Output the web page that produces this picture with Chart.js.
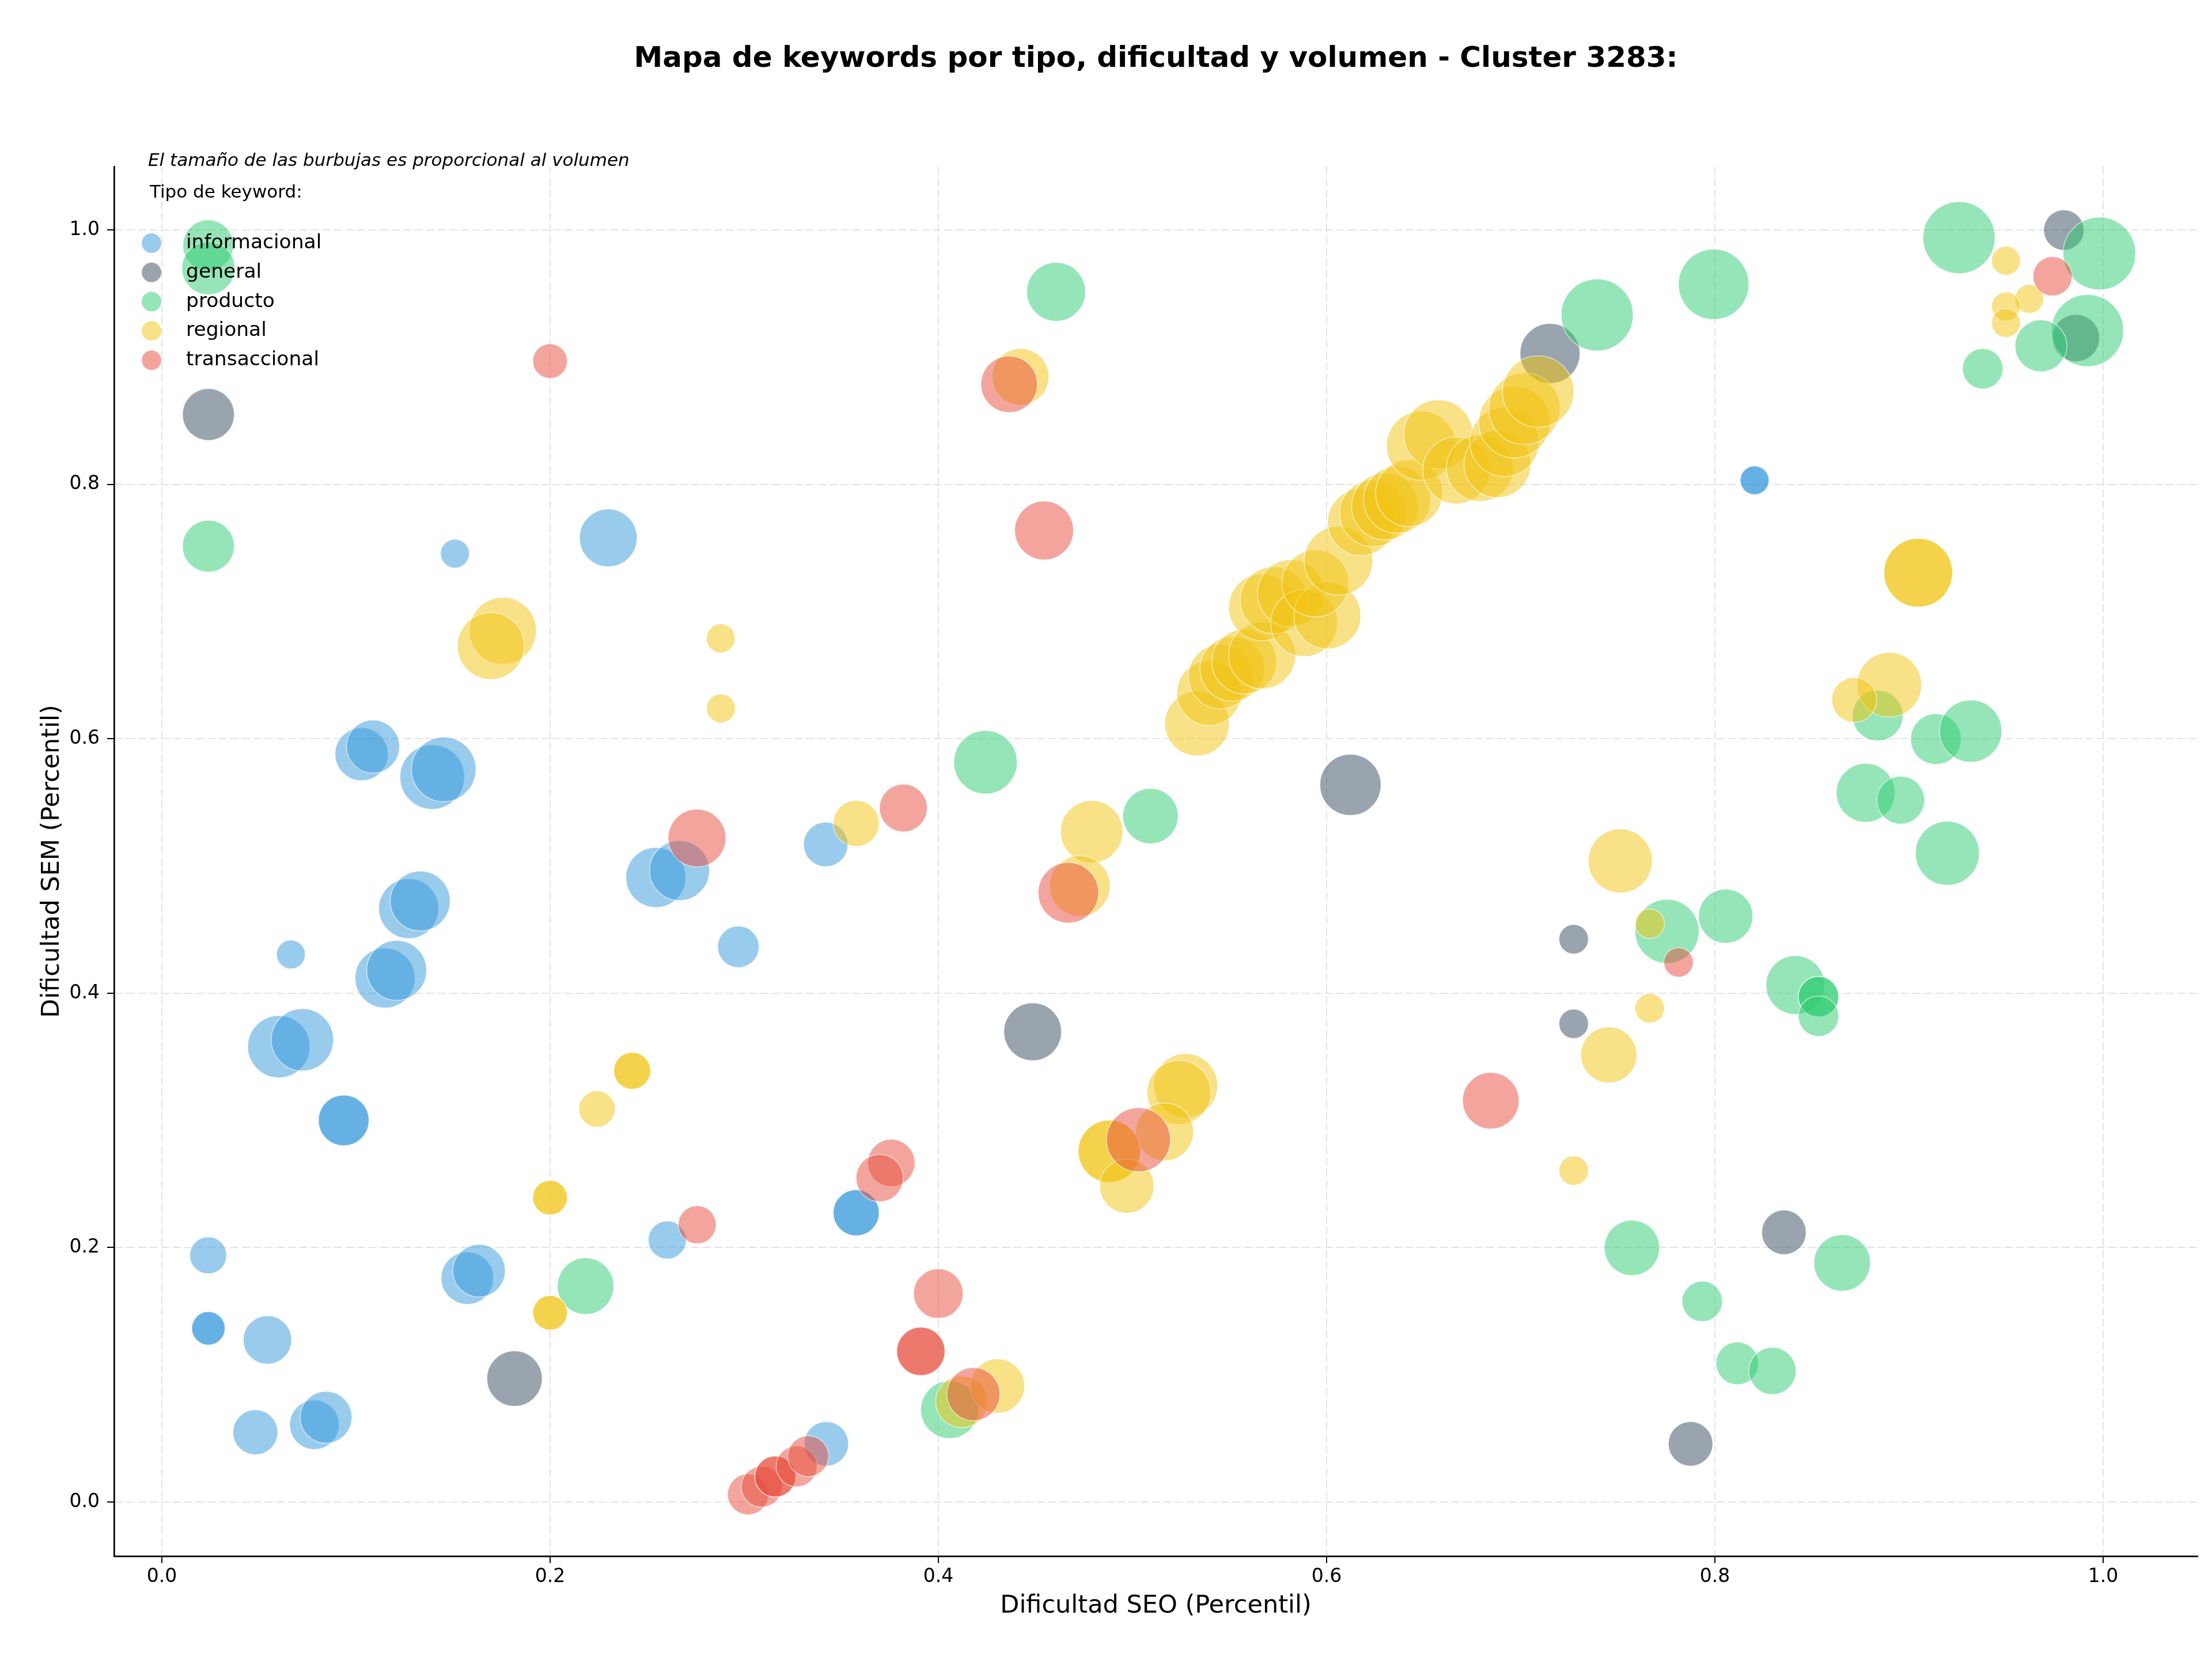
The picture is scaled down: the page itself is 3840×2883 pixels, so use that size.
<!DOCTYPE html>
<html>
<head>
<meta charset="utf-8">
<script src="https://cdn.jsdelivr.net/npm/chart.js@4/dist/chart.umd.min.js"></script>
<style>
  html, body { margin: 0; padding: 0; background: #fff; }
  canvas { display: block; }
</style>
</head>
<body>
<canvas id="keywords-bubble-chart" width="3840" height="2883"></canvas>
<script>
/* Datos: dificultad SEO (x), dificultad SEM (y) y volumen por tipo de keyword */
let tipos = ['informacional', 'general', 'producto', 'regional', 'transaccional']

let seoInformacional = [0.151, 0.230, 0.1029, 0.1088, 0.1393, 0.1452, 0.342, 0.2545, 0.2667, 0.297, 0.1272, 0.1331, 0.0665, 0.115, 0.121, 0.0603, 0.0724, 0.0937, 0.0937, 0.2604, 0.0239, 0.024, 0.024, 0.0544, 0.1574, 0.1634, 0.0482, 0.0786, 0.0846, 0.3577, 0.3577, 0.3423, 0.8205, 0.8205]
let semInformacional = [0.7456, 0.758, 0.588, 0.594, 0.570, 0.576, 0.517, 0.491, 0.4965, 0.4365, 0.4666, 0.4725, 0.4305, 0.412, 0.418, 0.358, 0.3634, 0.300, 0.300, 0.206, 0.1939, 0.1365, 0.1365, 0.1274, 0.176, 0.1818, 0.0548, 0.0607, 0.0666, 0.2274, 0.2274, 0.0457, 0.8033, 0.8033]
let volInformacional = [1570, 6300, 5330, 5330, 7900, 7900, 3750, 6810, 6810, 3270, 6810, 6810, 1570, 6810, 6810, 7350, 7350, 4880, 4880, 2740, 2580, 2120, 2120, 4440, 5220, 5220, 3830, 4660, 5100, 4030, 4030, 3750, 1570, 1570]

let seoGeneral = [0.024, 0.1817, 0.4486, 0.6123, 0.7151, 0.9798, 0.986, 0.7273, 0.7273, 0.8356, 0.7875]
let semGeneral = [0.855, 0.097, 0.3697, 0.5638, 0.903, 1.0, 0.9151, 0.4424, 0.376, 0.212, 0.0457]
let volGeneral = [5100, 5800, 6300, 7080, 6810, 3090, 4240, 1640, 1640, 3750, 3750]

let seoProducto = [0.0239, 0.024, 0.024, 0.2183, 0.4058, 0.4607, 0.4243, 0.5093, 0.7394, 0.7994, 0.9258, 0.9981, 0.992, 0.968, 0.938, 0.8839, 0.9139, 0.9318, 0.8777, 0.8958, 0.9198, 0.7754, 0.8056, 0.8415, 0.8534, 0.8534, 0.8534, 0.7573, 0.8656, 0.7935, 0.8116, 0.8297]
let semProducto = [0.988, 0.970, 0.7515, 0.1697, 0.0726, 0.9515, 0.5816, 0.5393, 0.9333, 0.9574, 0.9941, 0.9816, 0.921, 0.909, 0.891, 0.6183, 0.5998, 0.6061, 0.5576, 0.5518, 0.510, 0.4487, 0.4606, 0.4064, 0.3973, 0.3973, 0.3819, 0.1998, 0.188, 0.1577, 0.109, 0.103]
let volProducto = [4880, 5330, 5100, 6050, 6300, 6550, 7620, 5800, 9840, 9380, 9840, 10000, 9840, 5100, 3090, 4880, 4880, 7350, 6550, 4340, 7760, 7760, 5570, 6550, 3090, 3090, 3090, 5800, 6050, 3090, 3450, 4240]

let seoRegional = [0.1757, 0.1695, 0.2879, 0.288, 0.2423, 0.2423, 0.2242, 0.2, 0.2, 0.2, 0.2, 0.3577, 0.4424, 0.479, 0.4729, 0.5274, 0.524, 0.5166, 0.4881, 0.4881, 0.4971, 0.412, 0.4305,
  0.5333, 0.5395, 0.5454, 0.5514, 0.5576, 0.5668, 0.5668, 0.5727, 0.5816, 0.5884, 0.6004, 0.5942, 0.6061, 0.6178, 0.624, 0.6301, 0.6363, 0.6425, 0.6487, 0.6576, 0.6668, 0.679, 0.688, 0.6916, 0.6968, 0.7019, 0.709,
  0.950, 0.962, 0.950, 0.950, 0.9048, 0.9048, 0.8899, 0.8718, 0.7513, 0.7665, 0.7665, 0.7454, 0.7273]
let semRegional = [0.685, 0.673, 0.679, 0.624, 0.339, 0.339, 0.309, 0.2393, 0.2393, 0.1488, 0.1488, 0.5335, 0.8847, 0.527, 0.4843, 0.3274, 0.322, 0.291, 0.2757, 0.2757, 0.2484, 0.0788, 0.0911,
  0.612, 0.636, 0.649, 0.655, 0.6607, 0.6656, 0.7034, 0.709, 0.7146, 0.691, 0.697, 0.7222, 0.74, 0.7704, 0.7774, 0.7827, 0.788, 0.7932, 0.8305, 0.8394, 0.811, 0.813, 0.816, 0.8334, 0.849, 0.8596, 0.873,
  0.976, 0.946, 0.940, 0.927, 0.7306, 0.7306, 0.6425, 0.6306, 0.504, 0.4547, 0.3882, 0.3515, 0.2606]
let volRegional = [8480, 8480, 1570, 1570, 2580, 2580, 2500, 2270, 2270, 2270, 2270, 4030, 6050, 7350, 6940, 7760, 7760, 6300, 7350, 7350, 5570, 5100, 5570,
  7900, 7900, 7900, 7900, 7900, 8480, 8480, 8480, 8480, 8480, 8480, 8480, 8920, 8480, 8480, 8480, 8480, 8480, 9070, 9070, 8480, 8480, 8480, 9070, 9690, 9690, 9690,
  1570, 1570, 1570, 1570, 8920, 8920, 7900, 3830, 7760, 1640, 1640, 5950, 1640]

let seoTransaccional = [0.2, 0.2757, 0.2758, 0.4365, 0.4545, 0.382, 0.467, 0.5031, 0.3758, 0.3698, 0.400, 0.391, 0.391, 0.4181, 0.6846, 0.974, 0.7813, 0.302, 0.309, 0.316, 0.316, 0.327, 0.333]
let semTransaccional = [0.897, 0.522, 0.218, 0.8788, 0.7638, 0.5456, 0.479, 0.2848, 0.2666, 0.2547, 0.1638, 0.1184, 0.1184, 0.0848, 0.3155, 0.9637, 0.4242, 0.006, 0.012, 0.020, 0.020, 0.028, 0.036]
let volTransaccional = [2270, 6300, 2740, 6050, 6550, 4340, 6940, 7760, 4240, 4240, 4660, 4440, 4440, 5330, 6050, 2910, 1640, 3180, 3180, 3180, 3180, 3180, 3180]

// colores de cada tipo, se pintan con transparencia
let chartColors = ['#3498db', '#34495e', '#2ecc71', '#f1c40f', '#e74c3c']
let fontFamily = "'DejaVu Sans', 'Liberation Sans', sans-serif"

function withAlpha(hex, alpha) {
    let r = parseInt(hex.slice(1, 3), 16)
    let g = parseInt(hex.slice(3, 5), 16)
    let b = parseInt(hex.slice(5, 7), 16)
    return 'rgba(' + r + ',' + g + ',' + b + ',' + alpha + ')'
}

// el area de la burbuja es proporcional al volumen
function bubbleRadius(volumen) {
    return 0.63 * Math.sqrt(volumen)
}

function buildPoints(seo, sem, vol) {
    return seo.map(function (x, i) {
        return { x: x, y: sem[i], r: bubbleRadius(vol[i]) }
    })
}

let series = [
    buildPoints(seoInformacional, semInformacional, volInformacional),
    buildPoints(seoGeneral, semGeneral, volGeneral),
    buildPoints(seoProducto, semProducto, volProducto),
    buildPoints(seoRegional, semRegional, volRegional),
    buildPoints(seoTransaccional, semTransaccional, volTransaccional)
]

let datasets = tipos.map(function (tipo, i) {
    return {
        label: tipo,
        data: series[i],
        backgroundColor: withAlpha(chartColors[i], 0.5),
        borderColor: 'rgba(255,255,255,0.6)',
        borderWidth: 1.5,
        order: tipos.length - i   // el primer tipo queda debajo, como en el original
    }
})

/* Leyenda y nota dibujadas dentro del area del grafico */
let keywordLegend = {
    id: 'keywordLegend',
    afterDraw: function (chart) {
        let ctx = chart.ctx
        ctx.save()
        ctx.fillStyle = '#000'
        ctx.textBaseline = 'middle'
        ctx.textAlign = 'left'
        ctx.font = 'italic 31px ' + fontFamily
        ctx.fillText('El tamaño de las burbujas es proporcional al volumen', 257, 280)
        ctx.font = '31px ' + fontFamily
        ctx.fillText('Tipo de keyword:', 260, 335)

        ctx.font = '34.5px ' + fontFamily
        tipos.forEach(function (tipo, i) {
            let y = 422 + i * 50.8
            ctx.beginPath()
            ctx.arc(263, y, 17, 0, Math.PI * 2)
            ctx.fillStyle = withAlpha(chartColors[i], 0.5)
            ctx.fill()
            ctx.fillStyle = '#000'
            ctx.fillText(tipo, 323, y)
        })
        ctx.restore()
    }
}

let gridOptions = {
    color: '#e3e3e3',
    lineWidth: 2,
    tickColor: '#000',
    tickWidth: 2,
    tickLength: 12,
    tickBorderDash: []
}

let chartCanvas = document.querySelector('#keywords-bubble-chart')
let ctx = chartCanvas.getContext('2d')

let keywordsChart = new Chart(ctx, {
    type: 'bubble',
    data: { datasets: datasets },
    options: {
        responsive: false,
        animation: false,
        devicePixelRatio: 1,
        layout: { autoPadding: false, padding: { left: 0, right: 25, top: 0, bottom: 0 } },
        plugins: {
            legend: { display: false },
            tooltip: { enabled: false },
            title: {
                display: true,
                text: 'Mapa de keywords por tipo, dificultad y volumen - Cluster 3283:',
                color: '#000',
                font: { family: fontFamily, size: 50, weight: 'bold' },
                padding: { top: 73, bottom: 156 },
                fullSize: false
            }
        },
        scales: {
            x: {
                type: 'linear',
                min: -0.0246,
                max: 1.0487,
                ticks: {
                    stepSize: 0.2,
                    includeBounds: false,
                    color: '#000',
                    padding: 5,
                    font: { family: fontFamily, size: 33 },
                    callback: function (value) { return value.toFixed(1) }
                },
                grid: gridOptions,
                border: { display: true, color: '#000', width: 2.7, dash: [14, 6] },
                title: {
                    display: true,
                    text: 'Dificultad SEO (Percentil)',
                    color: '#000',
                    font: { family: fontFamily, size: 43 },
                    padding: { top: 0, bottom: 69 }
                },
                afterFit: function (scale) { scale.height = 182 }
            },
            y: {
                type: 'linear',
                min: -0.0426,
                max: 1.050,
                ticks: {
                    stepSize: 0.2,
                    includeBounds: false,
                    color: '#000',
                    padding: 13,
                    font: { family: fontFamily, size: 33 },
                    callback: function (value) { return value.toFixed(1) }
                },
                grid: gridOptions,
                border: { display: true, color: '#000', width: 2.7, dash: [14, 6] },
                title: {
                    display: true,
                    text: 'Dificultad SEM (Percentil)',
                    color: '#000',
                    font: { family: fontFamily, size: 43 },
                    padding: { top: 65, bottom: 0 }
                },
                afterFit: function (scale) { scale.width = 198 }
            }
        }
    },
    plugins: [keywordLegend]
})
</script>
</body>
</html>
